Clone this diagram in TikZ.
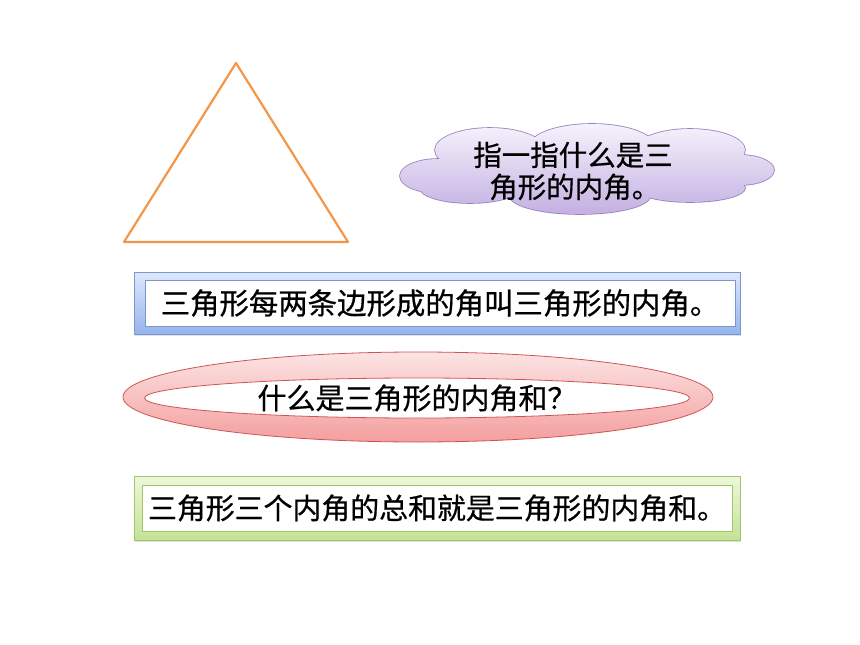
\documentclass[tikz,border=0pt]{standalone}
\usepackage{fontspec}
\newfontfamily\cjk[FakeBold=0.6]{Noto Sans CJK SC}
\usetikzlibrary{shapes.geometric, shadows, positioning}
\definecolor{triorange}{RGB}{245,150,70}
\definecolor{cloudtop}{RGB}{246,242,252}
\definecolor{cloudbot}{RGB}{196,176,226}
\definecolor{cloudline}{RGB}{150,130,190}
\definecolor{bluetop}{RGB}{222,232,250}
\definecolor{bluebot}{RGB}{150,180,238}
\definecolor{blueline}{RGB}{120,150,210}
\definecolor{redtop}{RGB}{252,228,228}
\definecolor{redbot}{RGB}{244,158,158}
\definecolor{redline}{RGB}{205,85,85}
\definecolor{greentop}{RGB}{238,247,220}
\definecolor{greenbot}{RGB}{196,226,150}
\definecolor{greenline}{RGB}{160,200,100}
\tikzstyle{tikztri} = [draw=triorange, line width=2.2pt, line join=round]
\tikzstyle{tikzbox} = [rectangle, inner sep=0pt, line width=0.8pt, drop shadow={opacity=0.25, shadow xshift=1pt, shadow yshift=-2pt}]
\tikzstyle{tikzinner} = [rectangle, fill=white, line width=0.8pt, inner sep=0pt, text centered]
\tikzstyle{tikzring} = [ellipse, inner sep=0pt, line width=0.8pt, draw=redline]
\newcommand{\puffs}{438/176/38/17, 490/150/55/22, 592/146/62/22, 690/150/55/21, 740/170/34/15, 470/188/50/15, 580/196/70/18, 690/188/55/14, 585/170/150/28}

\begin{document}
\begin{tikzpicture}[x=1pt, y=-1pt]
    \useasboundingbox (0,0) rectangle (860,645);
    % triangle
    \coordinate (apex) at (236,63);
    \coordinate (bl)   at (124,242);
    \coordinate (br)   at (348,242);
    \draw [tikztri] (apex) -- (bl) -- (br) -- cycle;

    % cloud: outlines first, then the shaded union on top of them
    \foreach \x/\y/\a/\b in \puffs
        \draw [cloudline, line width=1.6pt] (\x,\y) ellipse [x radius=\a, y radius=\b];
    \shade [top color=cloudtop, bottom color=cloudbot]
        \foreach \x/\y/\a/\b in \puffs {(\x,\y) ellipse [x radius=\a, y radius=\b]};
    \node (asktext) [align=left, inner sep=0pt, font=\cjk\fontsize{28.5}{32}\selectfont] at (573,171) {指一指什么是三\\ \hspace*{16pt}角形的内角。};

    % definition of an interior angle
    \node (def) [tikzbox, draw=blueline, top color=bluetop, bottom color=bluebot, minimum width=606, minimum height=62] at (437,303) {};
    \node (deftext) [tikzinner, draw=blueline, minimum width=590, minimum height=46, font=\cjk\fontsize{29.4}{35}\selectfont] at ([xshift=3pt]def.center) {三角形每两条边形成的角叫三角形的内角。};

    % question
    \node (q) [tikzring, top color=redtop, bottom color=redbot, minimum width=590, minimum height=90] at (418,397) {};
    \node (qtext) [tikzring, fill=white, minimum width=545, minimum height=40, font=\cjk\fontsize{29}{34}\selectfont] at (417,398) {什么是三角形的内角和？};

    % definition of the angle sum
    \node (sum) [tikzbox, draw=greenline, top color=greentop, bottom color=greenbot, minimum width=606, minimum height=64] at (437,508) {};
    \node (sumtext) [tikzinner, draw=greenline, minimum width=590, minimum height=46, font=\cjk\fontsize{28.9}{34}\selectfont] at (sum.center) {三角形三个内角的总和就是三角形的内角和。};
\end{tikzpicture}
\end{document}
